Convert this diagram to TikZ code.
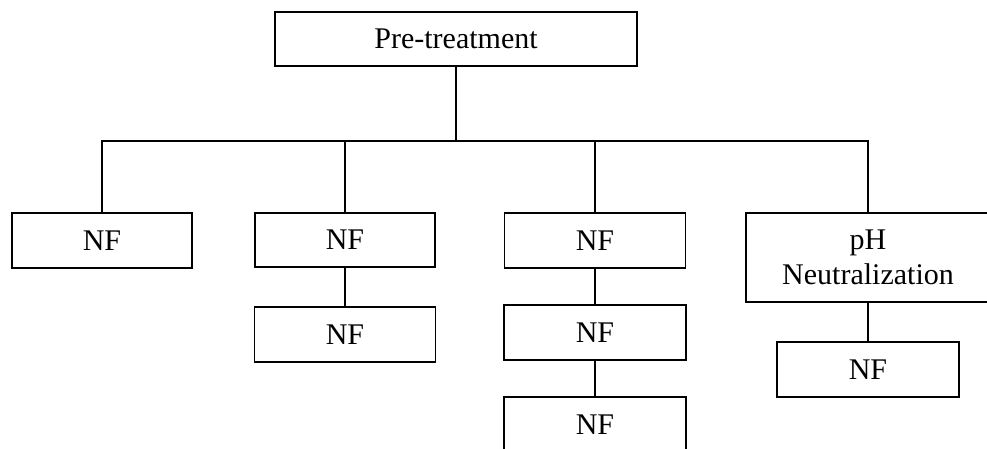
\documentclass[tikz,border=0pt]{standalone}
\usepackage{fontspec}
\setmainfont{Liberation Serif}
\begin{document}
\begin{tikzpicture}[x=1pt,y=-1pt,
  box/.style={draw=black,line width=1.3pt,rectangle,inner sep=0pt,align=center,
    font=\fontsize{30}{35}\selectfont},
  link/.style={draw=black,line width=1.3pt}]
\useasboundingbox (0,0) rectangle (987,449);
\clip (0,0) rectangle (987,449);
\fill[white] (0,0) rectangle (987,449);
\node[box,minimum width=362pt,minimum height=54pt] (pre) at (456,39) {Pre-treatment};
\node[box,minimum width=180pt,minimum height=55pt] (b1) at (102,240.5) {NF};
\node[box,minimum width=180pt,minimum height=54pt] (b2) at (345,240) {NF};
\node[box,minimum width=181pt,minimum height=55pt] (b2b) at (345,334.5) {NF};
\node[box,minimum width=181pt,minimum height=55pt] (b3) at (595,240.5) {NF};
\node[box,minimum width=182pt,minimum height=55pt] (b3b) at (595,332.5) {NF};
\node[box,minimum width=182pt,minimum height=55pt] (b3c) at (595,424.5) {NF};
\node[box,minimum width=244pt,minimum height=89pt] (ph) at (868,257.5) {pH\\Neutralization};
\node[box,minimum width=182pt,minimum height=55pt] (phb) at (868,369.5) {NF};
\coordinate (bus) at (456,141);
\draw[link] (pre.south) -- (pre.south |- bus);
\draw[link] (b1.north) -- (b1.north |- bus) -- (bus -| ph.north) -- (ph.north);
\draw[link] (b2.north) -- (b2.north |- bus);
\draw[link] (b3.north) -- (b3.north |- bus);
\draw[link] (b2.south) -- (b2b.north);
\draw[link] (b3.south) -- (b3b.north);
\draw[link] (b3b.south) -- (b3c.north);
\draw[link] (ph.south) -- (phb.north);
\end{tikzpicture}
\end{document}
